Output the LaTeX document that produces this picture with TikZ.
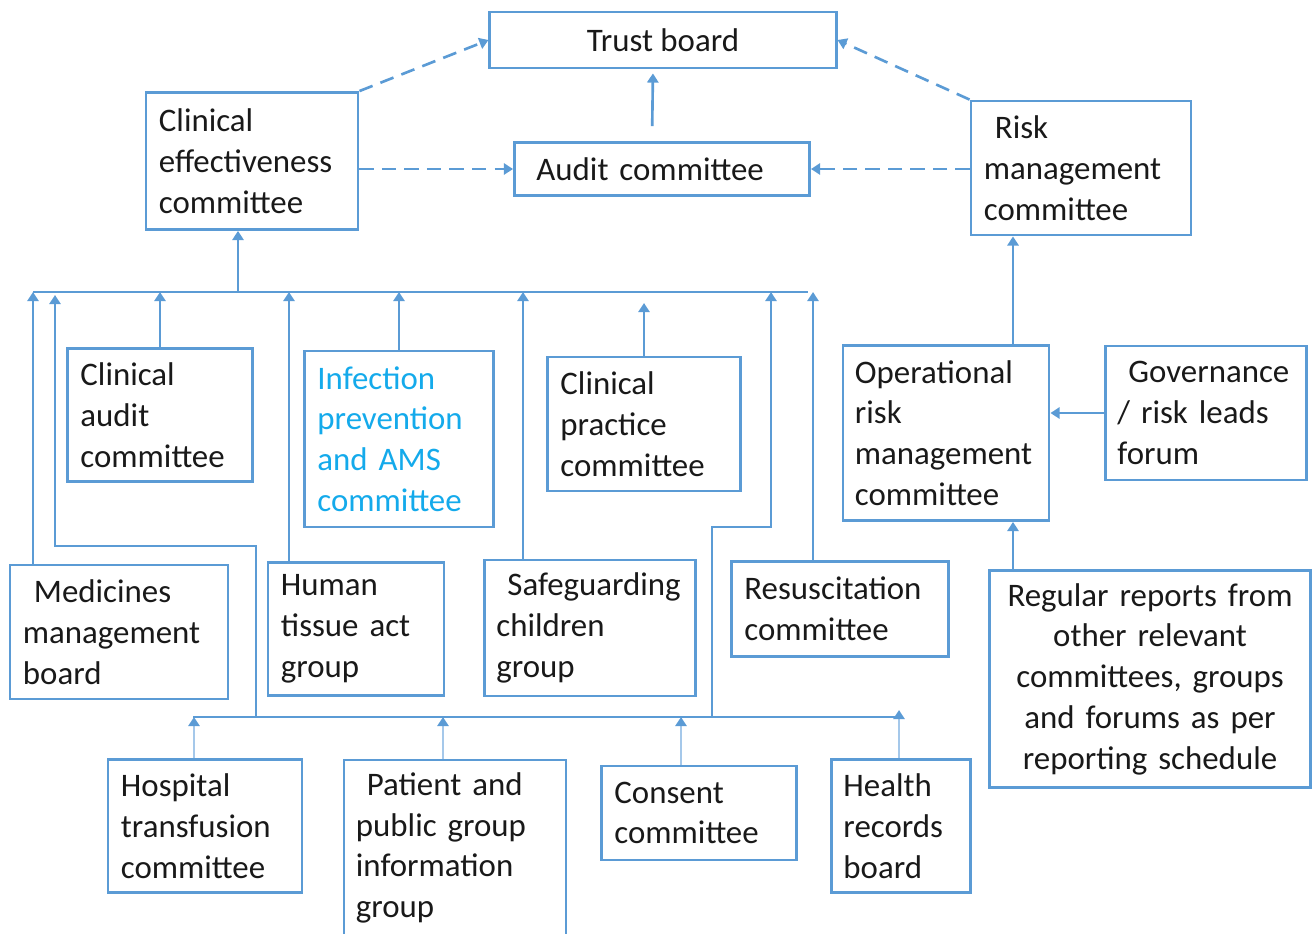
\documentclass[tikz,border=0pt]{standalone}
\usepackage{fontspec}
\setmainfont{Carlito}
\usepackage{tikz}
\usetikzlibrary{arrows.meta}
\definecolor{boxblue}{RGB}{91,155,213}
\definecolor{liteblue}{RGB}{165,200,234}
\definecolor{infoblue}{RGB}{20,170,235}
\definecolor{txt}{RGB}{25,25,25}

\begin{document}
\begin{tikzpicture}[x=0.01cm, y=-0.01cm, line width=0.75pt,
    box/.style={draw=boxblue, line width=0.8pt, inner xsep=0.13cm, inner ysep=0pt,
      align=left, text=txt, font=\fontsize{9.35}{11.6}\selectfont},
    flow/.style={draw=boxblue, -{Triangle[length=2.6pt,width=3.2pt]}},
    liteflow/.style={draw=liteblue, -{Triangle[length=2.6pt,width=3.2pt,color=boxblue]}},
    dashflow/.style={flow, dash pattern=on 4pt off 2.4pt}]
    \useasboundingbox (0,0) rectangle (1312,933);

    \node[box, align=center, minimum width=3.46cm, minimum height=0.56cm] (trust) at (663,40) {Trust board};
    \node[box, inner xsep=0.22cm, text width=2.51cm, minimum height=0.53cm] (audit) at (662,169) {Audit committee};
    \node[box, text width=1.86cm, minimum height=1.37cm] (clineff) at (252,161) {Clinical\\effectiveness\\committee};
    \node[box, text width=1.94cm, minimum height=1.34cm] (risk) at (1081,168) {~Risk\\management\\committee};
    \node[box, text width=1.59cm, minimum height=1.33cm] (clinaudit) at (160,415) {Clinical\\audit\\committee};
    \node[box, text=infoblue, text width=1.63cm, minimum height=1.76cm] (infection) at (399,439) {Infection\\prevention\\and AMS\\committee};
    \node[box, text width=1.67cm, minimum height=1.34cm] (clinpract) at (644,424) {Clinical\\practice\\committee};
    \node[box, inner xsep=0.12cm, text width=1.82cm, minimum height=1.75cm] (oprisk) at (946,433) {Operational\\risk\\management\\committee};
    \node[box, inner xsep=0.12cm, text width=1.77cm, minimum height=1.34cm] (gov) at (1206,413) {~Governance\\/ risk leads\\forum};
    \node[box, text width=1.92cm, minimum height=1.34cm] (medicines) at (119,632) {~Medicines\\management\\board};
    \node[box, text width=1.50cm, minimum height=1.33cm] (human) at (356,629) {Human\\tissue act\\group};
    \node[box, inner xsep=0.12cm, text width=1.87cm, minimum height=1.36cm] (safeguard) at (590,628) {~Safeguarding\\children\\group};
    \node[box, text width=1.91cm, minimum height=0.95cm] (resus) at (840,609) {Resuscitation\\committee};
    \node[box, align=center, text width=2.95cm, minimum height=2.17cm] (regular) at (1150,679) {Regular reports from\\other relevant\\committees, groups\\and forums as per\\reporting schedule};
    \node[box, text width=1.68cm, minimum height=1.33cm] (hospital) at (205,826) {Hospital\\transfusion\\committee};
    \node[box, inner xsep=0.12cm, text width=1.98cm, minimum height=1.76cm] (patient) at (455,848) {~Patient and\\public group\\information\\group};
    \node[box, text width=1.69cm, minimum height=0.94cm] (consent) at (699,813) {Consent\\committee};
    \node[box, inner xsep=0.12cm, text width=1.15cm, minimum height=1.33cm] (health) at (901,826) {Health\\records\\board};

    \coordinate (busW) at (33,292);
    \coordinate (busE) at (808,292);
    \coordinate (busUp) at (238,292);
    \coordinate (lowW) at (193,717);
    \coordinate (lowE) at (900,717);
    \coordinate (tHuman) at (289,292);
    \coordinate (tSafe) at (523,292);
    \coordinate (tResus) at (813,292);
    \coordinate (tL) at (55,295);
    \coordinate (jL) at (256,546);
    \coordinate (tR) at (771,292);
    \coordinate (jR) at (712,527);
    \coordinate (tHosp) at (194,717);
    \coordinate (tPatient) at (443,717);
    \coordinate (tConsent) at (681,717);
    \coordinate (tHealth) at (899,710);
    \coordinate (rx) at (1013,0);

    \draw[dashflow] (clineff.north east) -- (trust.west);
    \draw[dashflow] (risk.north west) -- (trust.east);
    \draw[flow, shorten <=0.15cm, shorten >=0.04cm] ([xshift=-0.1cm]audit.north) -- ([xshift=-0.1cm]trust.south);
    \draw[dashflow] (audit.west -| clineff.east) -- (audit.west);
    \draw[dashflow] (audit.east -| risk.west) -- (audit.east);

    \draw[flow] (rx |- oprisk.north) -- (rx |- risk.south);
    \draw[flow] (gov.west) -- (gov.west -| oprisk.east);
    \draw[flow] (rx |- regular.north) -- (rx |- oprisk.south);

    \draw[boxblue] (busW) -- (busE);
    \draw[flow] (busUp) -- (busUp |- clineff.south);
    \draw[flow] (busW |- medicines.north) -- (busW);
    \draw[flow] (clinaudit.north) -- (clinaudit.north |- busW);
    \draw[flow] (tHuman |- human.north) -- (tHuman);
    \draw[flow] (infection.north) -- (infection.north |- busW);
    \draw[flow] (tSafe |- safeguard.north) -- (tSafe);
    \draw[flow, shorten >=0.11cm] (clinpract.north) -- (clinpract.north |- busW);
    \draw[flow] (tResus |- resus.north) -- (tResus);
    \draw[flow] (jL |- lowW) -- (jL) -- (jL -| tL) -- (tL);
    \draw[flow] (jR |- lowW) -- (jR) -- (jR -| tR) -- (tR);

    \draw[boxblue] (lowW) -- (lowE);
    \draw[liteflow] (tHosp |- hospital.north) -- (tHosp);
    \draw[liteflow] (tPatient |- patient.north) -- (tPatient);
    \draw[liteflow] (tConsent |- consent.north) -- (tConsent);
    \draw[liteflow] (tHealth |- health.north) -- (tHealth);
\end{tikzpicture}
\end{document}
